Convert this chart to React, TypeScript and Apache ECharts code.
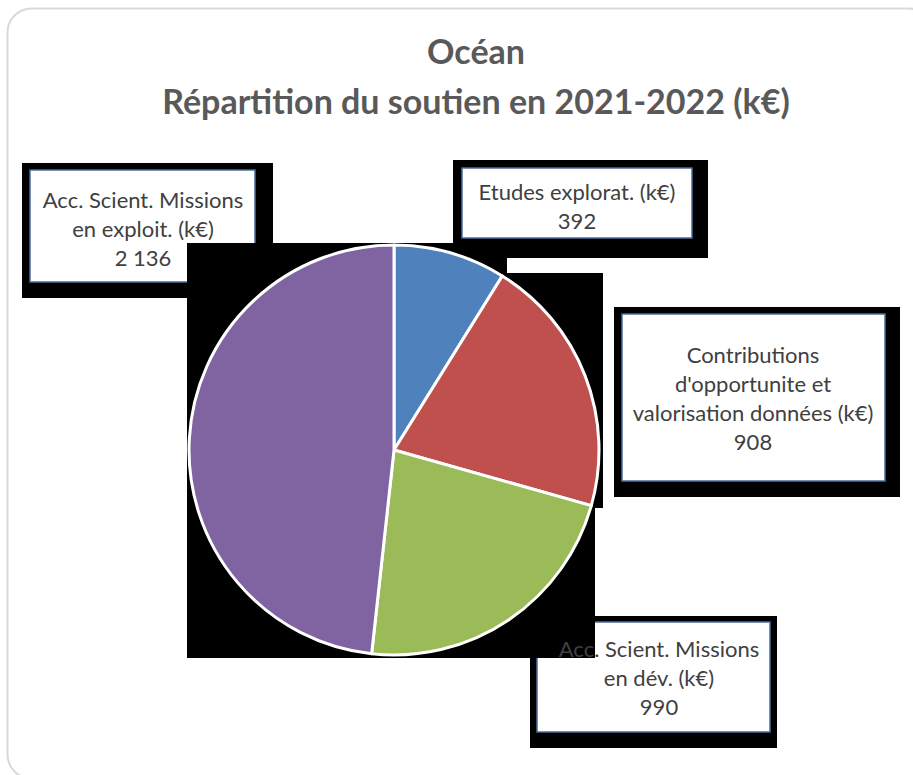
import React, { useEffect, useRef } from "react";
import * as echarts from "echarts";

const titleLines = ["Océan", "Répartition du soutien en 2021-2022 (k€)"];
const categories = [
  "Etudes explorat. (k€)",
  "Contributions d'opportunite et valorisation données (k€)",
  "Acc. Scient. Missions en dév. (k€)",
  "Acc. Scient. Missions en exploit. (k€)",
];
const labelTexts = [
  "Etudes explorat. (k€)",
  "Contributions\nd'opportunite et\nvalorisation données (k€)",
  "Acc. Scient. Missions\nen dév. (k€)",
  "Acc. Scient. Missions\nen exploit. (k€)",
];
const values = [392, 908, 990, 2136];
const colors = ["#4f81bd", "#c0504d", "#9bbb59", "#8064a2"];

const labelPos: [number, number][] = [
  [577, 206],
  [753, 398],
  [659, 677],
  [143, 228],
];

const fmt = (v: number) => String(v).replace(/\B(?=(\d{3})+(?!\d))/g, " ");

export default function App() {
  const ref = useRef<HTMLDivElement>(null);
  useEffect(() => {
    if (!ref.current) return;
    const chart = echarts.init(ref.current, null, { renderer: "svg" });
    const black = (x: number, y: number, w: number, h: number) => ({
      type: "rect",
      z: 0,
      shape: { x, y, width: w, height: h },
      style: { fill: "#000" },
      silent: true,
    });
    const box = (x: number, y: number, w: number, h: number) => ({
      type: "rect",
      z: 0,
      shape: { x, y, width: w, height: h },
      style: { fill: "#fff", stroke: "#4a6d9c", lineWidth: 1.5 },
      silent: true,
    });
    chart.setOption({
      animation: false,
      backgroundColor: "#fff",
      graphic: [
        {
          type: "rect",
          z: 0,
          shape: { x: 7.5, y: 8.5, width: 925, height: 770, r: 24 },
          style: { fill: "#fff", stroke: "#d9d9d9", lineWidth: 2 },
          silent: true,
        },
        black(22, 163, 251, 135),
        black(453, 160, 255, 98),
        black(614, 307, 286, 190),
        black(530, 616, 247, 132),
        box(30, 170, 225, 112),
        box(462, 168, 230, 70),
        box(622, 314, 263, 167),
        box(537, 622, 233, 110),
        black(187, 243, 416, 265),
        black(187, 508, 408, 150),
        {
          type: "rect",
          z: 0,
          shape: { x: 507, y: 258, width: 97, height: 15 },
          style: { fill: "#fff" },
          silent: true,
        },
        {
          type: "text",
          z: 5,
          x: 476,
          y: 50,
          style: {
            text: titleLines[0],
            fill: "#595959",
            font: "bold 34px Lato",
            align: "center",
            verticalAlign: "middle",
          },
        },
        {
          type: "text",
          z: 5,
          x: 476,
          y: 100,
          style: {
            text: titleLines[1],
            fill: "#595959",
            font: "bold 34px Lato",
            align: "center",
            verticalAlign: "middle",
          },
        },
      ],
      series: [
        {
          type: "pie",
          center: [394, 450],
          radius: 205,
          startAngle: 90,
          clockwise: true,
          z: 2,
          itemStyle: { borderColor: "#fff", borderWidth: 3 },
          data: categories.map((name, i) => ({
            name,
            value: values[i],
            itemStyle: { color: colors[i] },
          })),
          label: {
            show: true,
            position: "outside",
            formatter: (p: any) => labelTexts[p.dataIndex] + "\n" + fmt(p.value),
            color: "#404040",
            fontFamily: "Lato",
            fontSize: 22,
            lineHeight: 29,
            align: "center",
            overflow: "none",
          },
          labelLine: { show: false },
          labelLayout: (p: any) => ({
            x: labelPos[p.dataIndex][0],
            y: labelPos[p.dataIndex][1],
            align: "center",
            verticalAlign: "middle",
            width: 400,
          }),
          emphasis: { disabled: true },
        },
      ],
    });
    return () => chart.dispose();
  }, []);
  return (
    <div
      ref={ref}
      style={{ position: "fixed", left: 0, top: 0, width: 913, height: 775 }}
    />
  );
}
